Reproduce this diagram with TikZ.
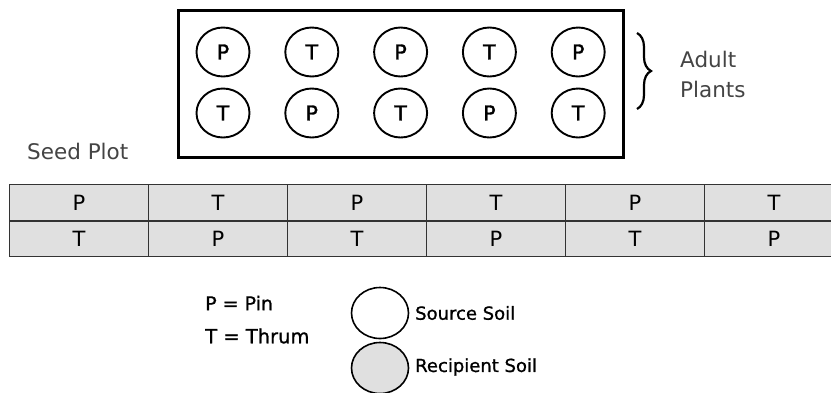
\documentclass[tikz,border=0pt]{standalone}
\usepackage{fontspec}
\setmainfont{DejaVu Sans}
\newfontfamily\heavyfont[FakeBold=1.6]{DejaVu Sans}
\newfontfamily\mediumfont[FakeBold=1.0]{DejaVu Sans}
\usetikzlibrary{shapes.geometric,decorations.pathreplacing}
\definecolor{cellgray}{HTML}{E0E0E0}
\definecolor{gridline}{HTML}{333333}
\definecolor{softtext}{HTML}{444444}
\begin{document}
\begin{tikzpicture}[x=1pt,y=-1pt,
  plant/.style={ellipse,draw,line width=1.9pt,minimum width=53pt,minimum height=49pt,inner sep=0pt,font=\heavyfont\fontsize{20.5}{22}\selectfont},
  cell/.style={rectangle,draw=gridline,line width=0.9pt,fill=cellgray,minimum width=139pt,minimum height=36pt,inner sep=0pt,anchor=north west,font=\fontsize{21}{23}\selectfont},
  soil/.style={ellipse,draw,line width=1.6pt,minimum width=57pt,minimum height=51pt,inner sep=0pt},
  label/.style={anchor=west,inner sep=0pt},
]
\useasboundingbox (0,0) rectangle (831,392);

% adult plant frame
\node[draw,line width=3.4pt,minimum width=445pt,minimum height=147pt,anchor=north west,inner sep=0pt] (frame) at (177,9) {};

% adult plants, two rows of five
\foreach \i/\a/\b in {1/P/T,2/T/P,3/P/T,4/T/P,5/P/T}{
  \node[plant] (u\i) at ({223+(\i-1)*88.8},52) {\a};
  \node[plant] (d\i) at ({223+(\i-1)*88.8},113) {\b};
}

% brace and its label
\coordinate (bt) at (637,33);
\coordinate (bb) at (637,109);
\draw[line width=2.2pt,decorate,decoration={brace,amplitude=14pt}] (bt) -- (bb);
\node[label,anchor=base west,text=softtext,font=\fontsize{21.5}{23}\selectfont] (adult) at (680,67) {Adult};
\node[label,anchor=base west,text=softtext,font=\fontsize{21.5}{23}\selectfont] (plants) at (680,97) {Plants};

\node[label,anchor=base west,text=softtext,font=\fontsize{21.5}{23}\selectfont] (seed) at (27,159) {Seed Plot};

% seed plot table
\foreach \j/\a/\b in {0/P/T,1/T/P,2/P/T,3/T/P,4/P/T,5/T/P}{
  \node[cell] (s\j) at ({9+\j*139},184) {\a};
  \node[cell] (t\j) at ({9+\j*139},220) {\b};
}
\draw[gridline,line width=1.8pt] (s0.south west) -- (s5.south east);

% legend
\node[label,font=\mediumfont\fontsize{19}{21}\selectfont] (lp) at (205,303) {P = Pin};
\node[label,font=\mediumfont\fontsize{19.5}{21}\selectfont] (lt) at (205,336) {T = Thrum};
\node[soil] (src) at (380,313) {};
\node[soil,fill=cellgray] (rcp) at (380,368) {};
\node[label,font=\mediumfont\fontsize{18}{20}\selectfont] (lsrc) at (415,313) {Source Soil};
\node[label,font=\mediumfont\fontsize{18}{20}\selectfont] (lrcp) at (415,367) {Recipient Soil};
\end{tikzpicture}
\end{document}
